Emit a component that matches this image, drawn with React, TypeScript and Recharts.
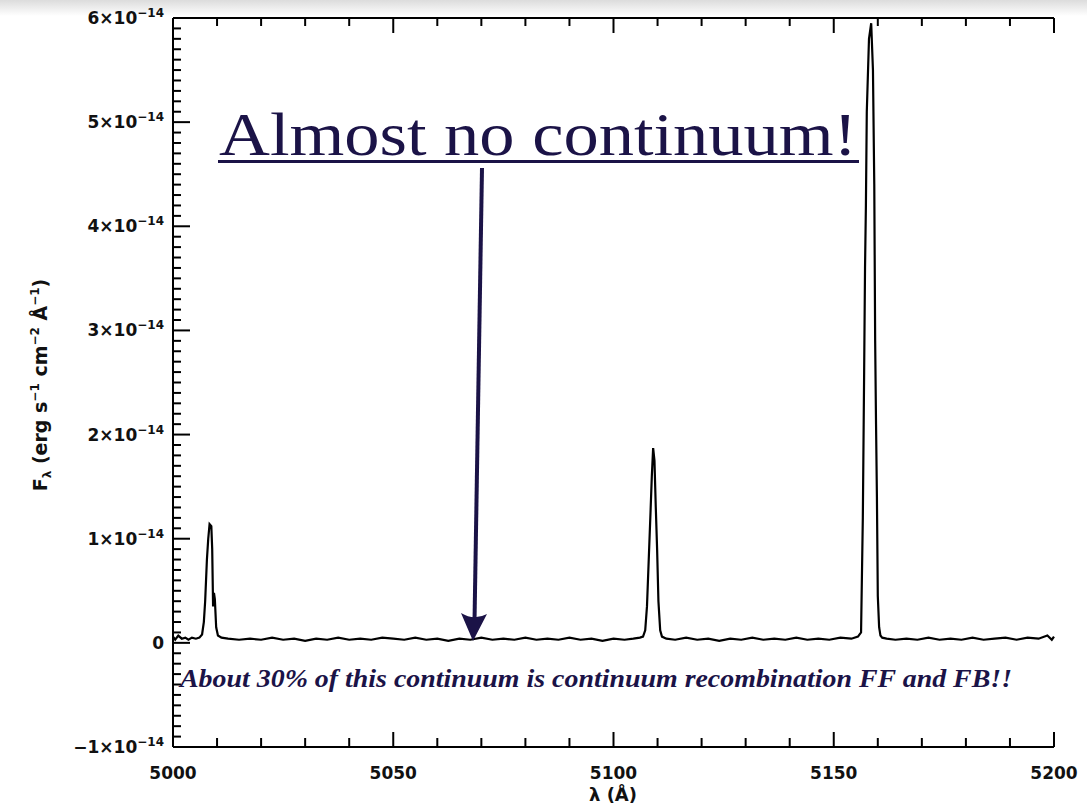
import { LineChart, Line, XAxis, YAxis } from 'recharts'

// spectrum samples, wavelength in Angstrom, flux in units of 1e-14 erg s^-1 cm^-2 A^-1
const wavelength = [
  5000.0, 5000.5, 5001.2, 5002.0, 5002.8, 5003.5, 5004.3, 5005.2, 5006.0,
  5006.6, 5007.0, 5007.3, 5007.7, 5008.0, 5008.3, 5008.7, 5008.9, 5009.1, 5009.3, 5009.5, 5009.8, 5010.2, 5011.0,
  5012.5, 5015, 5017.5, 5020, 5022.5, 5025, 5027.5, 5030, 5032.5, 5035, 5037.5, 5040, 5042.5, 5045, 5047.5,
  5050, 5052.5, 5055, 5057.5, 5060, 5062.5, 5065, 5067.5, 5070, 5072.5, 5075, 5077.5, 5080, 5082.5, 5085,
  5087.5, 5090, 5092.5, 5095, 5097.5, 5100, 5102.5, 5104.5, 5106.0,
  5106.7, 5107.2, 5107.6, 5108.0, 5108.4, 5108.7, 5109.0, 5109.3, 5109.6, 5109.9, 5110.2, 5110.6, 5111.0, 5112,
  5114, 5116.5, 5119, 5121.5, 5124, 5126.5, 5129, 5131.5, 5134, 5136.5, 5139, 5141.5, 5144, 5146.5, 5149,
  5151.5, 5154, 5155.5,
  5156.2, 5156.6, 5156.9, 5157.1, 5157.3, 5157.5, 5158.0, 5158.5, 5158.9, 5159.2, 5159.4, 5159.6, 5159.8,
  5160.0, 5160.3, 5160.6, 5161.0, 5162.0,
  5164, 5166.5, 5169, 5171.5, 5174, 5176.5, 5179, 5181.5, 5184, 5186.5, 5189, 5191.5, 5194, 5196.5, 5198.5,
  5199.5, 5200,
]

const flux = [
  0.06, 0.03, 0.07, 0.04, 0.05, 0.03, 0.05, 0.04, 0.05,
  0.08, 0.2, 0.4, 0.8, 1.0, 1.14, 1.12, 0.9, 0.35, 0.48, 0.42, 0.15, 0.07, 0.05,
  0.04, 0.03, 0.04, 0.03, 0.05, 0.03, 0.04, 0.02, 0.04, 0.03, 0.05, 0.03, 0.04, 0.03, 0.05,
  0.04, 0.03, 0.05, 0.03, 0.04, 0.02, 0.04, 0.03, 0.05, 0.03, 0.04, 0.03, 0.05, 0.03, 0.04,
  0.03, 0.05, 0.03, 0.04, 0.02, 0.04, 0.03, 0.04, 0.05,
  0.06, 0.12, 0.35, 0.8, 1.25, 1.6, 1.87, 1.75, 1.3, 0.9, 0.4, 0.12, 0.06, 0.04,
  0.03, 0.05, 0.03, 0.04, 0.02, 0.04, 0.03, 0.05, 0.03, 0.04, 0.03, 0.05, 0.03, 0.04, 0.03,
  0.05, 0.04, 0.06,
  0.1, 1.2, 2.6, 3.6, 4.2, 5.1, 5.8, 5.95, 5.5, 4.4, 2.9, 2.1, 1.4,
  0.45, 0.15, 0.07, 0.05, 0.04,
  0.03, 0.04, 0.03, 0.05, 0.03, 0.04, 0.03, 0.05, 0.03, 0.04, 0.05, 0.03, 0.05, 0.04, 0.07,
  0.03, 0.06,
]

// axis ticks: majors carry labels, minors are bare
const xTicks = [5000, 5010, 5020, 5030, 5040, 5050, 5060, 5070, 5080, 5090, 5100,
  5110, 5120, 5130, 5140, 5150, 5160, 5170, 5180, 5190, 5200]
const xMajor = [5000, 5050, 5100, 5150, 5200]
const yTicks = Array.from({ length: 71 }, (_, i) => (i - 10) / 10)

const data = wavelength.map((w, i) => ({ w, flux: flux[i] }))

const INK = '#1b1347'
const LABEL_FONT = '"DejaVu Sans", sans-serif'

const isMajorY = (v: number) => Number.isInteger(v)

function LeftTick(props: any) {
  const { x, y, payload } = props
  const v = payload.value
  const major = isMajorY(v)
  return (
    <g>
      <line x1={x} y1={y} x2={x + (major ? 17 : 8)} y2={y} stroke="#000" strokeWidth={2} />
      {major && (
        <text x={x - 9} y={y + 6} textAnchor="end" fontFamily={LABEL_FONT} fontWeight="bold" fontSize={17} fill="#111">
          {v === 0 ? '0' : (
            <>
              <tspan>{`${v < 0 ? '\u2212' : ''}${Math.abs(v)}×10`}</tspan>
              <tspan dy={-7} fontSize={12}>−14</tspan>
            </>
          )}
        </text>
      )}
    </g>
  )
}

function RightTick(props: any) {
  const { x, y, payload } = props
  const major = isMajorY(payload.value)
  return <line x1={x} y1={y} x2={x - (major ? 17 : 9)} y2={y} stroke="#000" strokeWidth={2} />
}

function BottomTick(props: any) {
  const { x, y, payload } = props
  const major = xMajor.includes(payload.value)
  return (
    <g>
      <line x1={x} y1={y} x2={x} y2={y - (major ? 15 : 9)} stroke="#000" strokeWidth={2} />
      {major && (
        <text x={x} y={y + 32} textAnchor="middle" fontFamily={LABEL_FONT} fontWeight="bold" fontSize={17} fill="#111">
          {payload.value}
        </text>
      )}
    </g>
  )
}

function TopTick(props: any) {
  const { x, y, payload } = props
  const major = xMajor.includes(payload.value)
  return <line x1={x} y1={y} x2={x} y2={y + (major ? 15 : 8)} stroke="#000" strokeWidth={2} />
}

export default function App() {
  return (
    <div style={{ position: 'absolute', left: 0, top: 0, width: 1087, height: 807, background: '#fff' }}>
      <svg width={1087} height={16} style={{ position: 'absolute', left: 0, top: 0 }}>
        <defs>
          <linearGradient id="shade" x1="0" y1="0" x2="0" y2="1">
            <stop offset="0%" stopColor="#dcdcdc" />
            <stop offset="100%" stopColor="#ffffff" />
          </linearGradient>
        </defs>
        <rect x={0} y={0} width={1087} height={16} fill="url(#shade)" />
      </svg>
      <div style={{ position: 'absolute', left: 0, top: 0 }}>
        <LineChart width={1087} height={807} data={data} margin={{ top: 17, right: 33, left: 0, bottom: 0 }}>
          <XAxis
            dataKey="w"
            type="number"
            domain={[5000, 5200]}
            ticks={xTicks}
            interval={0}
            height={60}
            tickSize={0}
            tickMargin={0}
            tickLine={false}
            axisLine={{ stroke: '#000', strokeWidth: 2 }}
            tick={<BottomTick />}
          />
          <XAxis
            xAxisId="top"
            orientation="top"
            dataKey="w"
            type="number"
            domain={[5000, 5200]}
            ticks={xTicks}
            interval={0}
            height={1}
            tickSize={0}
            tickMargin={0}
            tickLine={false}
            axisLine={{ stroke: '#000', strokeWidth: 2 }}
            tick={<TopTick />}
          />
          <YAxis
            type="number"
            domain={[-1, 6]}
            ticks={yTicks}
            interval={0}
            width={173}
            tickSize={0}
            tickMargin={0}
            tickLine={false}
            axisLine={{ stroke: '#000', strokeWidth: 2 }}
            tick={<LeftTick />}
          />
          <YAxis
            yAxisId="right"
            orientation="right"
            type="number"
            domain={[-1, 6]}
            ticks={yTicks}
            interval={0}
            width={0}
            tickSize={0}
            tickMargin={0}
            tickLine={false}
            axisLine={{ stroke: '#000', strokeWidth: 2 }}
            tick={<RightTick />}
          />
          <Line
            type="linear"
            dataKey="flux"
            stroke="#000"
            strokeWidth={2.2}
            dot={false}
            isAnimationActive={false}
          />
        </LineChart>
      </div>
      <svg width={1087} height={807} style={{ position: 'absolute', left: 0, top: 0, pointerEvents: 'none' }}>
        {/* axis titles */}
        <text x={613} y={801} textAnchor="middle" fontFamily={LABEL_FONT} fontWeight="bold" fontSize={18} fill="#111">
          λ (Å)
        </text>
        <text
          transform="translate(47,385) rotate(-90)"
          textAnchor="middle"
          fontFamily={LABEL_FONT}
          fontWeight="bold"
          fontSize={19}
          fill="#111"
        >
          <tspan>F</tspan>
          <tspan dy={4} fontSize={12}>λ</tspan>
          <tspan dy={-4}> (erg s</tspan>
          <tspan dy={-8} fontSize={12}>−1</tspan>
          <tspan dy={8}> cm</tspan>
          <tspan dy={-8} fontSize={12}>−2</tspan>
          <tspan dy={8}> Å</tspan>
          <tspan dy={-8} fontSize={12}>−1</tspan>
          <tspan dy={8}>)</tspan>
        </text>

        {/* annotations */}
        <text x={219} y={155} fontFamily='"Liberation Serif", serif' fontSize={62} fill={INK} textLength={638} lengthAdjust="spacingAndGlyphs">
          Almost no continuum!
        </text>
        <rect x={218} y={160} width={641} height={3} fill={INK} />
        <line x1={482} y1={168} x2={474.5} y2={622} stroke={INK} strokeWidth={4} />
        <path d="M473,641 L461,613 Q474,621 487,614 Z" fill={INK} />
        <text
          x={180}
          y={687}
          fontFamily='"Liberation Serif", serif'
          fontStyle="italic"
          fontWeight="bold"
          fontSize={25}
          fill={INK}
          textLength={832}
          lengthAdjust="spacingAndGlyphs"
        >
          About 30% of this continuum is continuum recombination FF and FB!!
        </text>
      </svg>
    </div>
  )
}
